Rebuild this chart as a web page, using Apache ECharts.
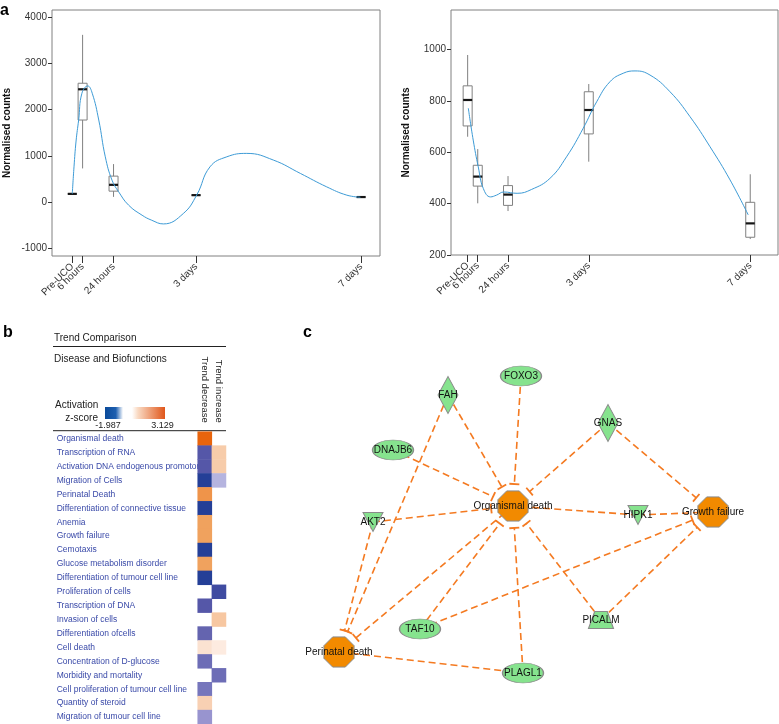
<!DOCTYPE html>
<html><head><meta charset="utf-8">
<script src="https://cdn.jsdelivr.net/npm/echarts@6/dist/echarts.min.js"></script>
<style>html,body{margin:0;padding:0;background:#fff}#c{width:779px;height:724px}</style>
</head><body><div id="c"></div>
<script>
const FONT = '"Liberation Sans", Arial, Helvetica, sans-serif';

// ---------- Panel a ----------
const timeLabels = ['Pre-UCO', '6 hours', '24 hours', '3 days', '7 days'];
const timeHours = [0, 6, 24, 72, 168];

// box stats per time point: [min, q1, median, q3, max]
const leftBoxes = [
  [174, 174, 174, 174, 174],
  [726, 1776, 2443, 2574, 3624],
  [109, 233, 370, 559, 820],
  [146, 146, 146, 146, 146],
  [105, 105, 105, 105, 105]
];
const leftCurveHours  = [0, 1.0, 2.2, 3.7, 5.6, 9.0, 11.6, 15.4, 19.2, 23.1, 27, 32.8, 40.6, 46.2, 53, 64.6, 72.4, 80.1, 89.9, 101.5, 117, 132.7, 148, 159.7, 167.6];
const leftCurveValues = [174, 760, 1320, 1776, 2357, 2515, 2357, 1776, 978, 472, 217, -72, -289, -398, -478, -252, 150, 760, 978, 1052, 907, 617, 326, 146, 102];
const leftTicks = [-1000, 0, 1000, 2000, 3000, 4000];

const rightBoxes = [
  [660, 702, 803, 858, 978],
  [401, 468, 505, 549, 612],
  [371, 393, 435, 470, 507],
  [563, 671, 764, 835, 865],
  [262, 269, 323, 405, 514]
];
const rightCurveHours  = [0.4, 3.3, 6.3, 9.3, 13.6, 17.2, 21.5, 29.4, 38, 48.9, 58.8, 68.7, 76.7, 84.6, 92.5, 99.5, 108.4, 120.3, 132.2, 144.1, 156, 166.8];
const rightCurveValues = [771, 647, 543, 459, 426, 433, 445, 440, 455, 498, 582, 693, 796, 874, 907, 916, 900, 835, 738, 621, 492, 356];
const rightTicks = [200, 400, 600, 800, 1000];

// ---------- Panel b ----------
const trendColumns = ['Trend decrease', 'Trend increase'];
const functions = ['Organismal death', 'Transcription of RNA', 'Activation DNA endogenous promotor', 'Migration of Cells',
  'Perinatal Death', 'Differentiation of connective tissue', 'Anemia', 'Growth failure', 'Cemotaxis',
  'Glucose metabolism disorder', 'Differentiation of tumour cell line', 'Proliferation of cells', 'Transcription of DNA',
  'Invasion of cells', 'Differentiation ofcells', 'Cell death', 'Concentration of D-glucose', 'Morbidity and mortality',
  'Cell proliferation of tumour cell line', 'Quantity of steroid', 'Migration of tumour cell line'];
const zDecrease = [3.129, -1.5, -1.5, -1.987, 2.2, -1.987, 2.0, 2.0, -1.987, 2.0, -1.987, null, -1.5, null, -1.3, 0.4, -1.2, null, -1.1, 0.8, -0.8];
const zIncrease = [null, 0.9, 0.9, -0.6, null, null, null, null, null, null, null, -1.7, null, 1.0, null, 0.3, null, -1.2, null, null, null];
const zMin = -1.987, zMax = 3.129;

// ---------- Panel c ----------
const nodeNames = ['FOXO3', 'FAH', 'GNAS', 'DNAJB6', 'Organismal death', 'AKT2', 'HIPK1', 'Growth failure', 'PICALM', 'TAF10', 'Perinatal death', 'PLAGL1'];
const nodeKinds = ['ellipse', 'diamond', 'diamond', 'ellipse', 'func', 'triangle', 'triangle', 'func', 'trapezoid', 'ellipse', 'func', 'ellipse'];
const nodeX = [182, 109, 269, 54, 174, 34, 299, 374, 262, 81, 0, 184];
const nodeY = [0, 19, 47, 74, 130, 146, 139, 136, 244, 253, 276, 297];
const linkFrom = ['FAH', 'FOXO3', 'GNAS', 'DNAJB6', 'AKT2', 'HIPK1', 'TAF10', 'PLAGL1', 'PICALM',
  'Organismal death', 'AKT2', 'FAH', 'PLAGL1', 'GNAS', 'HIPK1', 'TAF10', 'PICALM'];
const linkTo = ['Organismal death', 'Organismal death', 'Organismal death', 'Organismal death', 'Organismal death',
  'Organismal death', 'Organismal death', 'Organismal death', 'Organismal death',
  'Perinatal death', 'Perinatal death', 'Perinatal death', 'Perinatal death',
  'Growth failure', 'Growth failure', 'Growth failure', 'Growth failure'];
const linkInhibit = [1, 1, 1, 1, 1, 0, 1, 1, 1, 1, 1, 1, 0, 1, 0, 1, 1];

// ---------- styles ----------
// octagon path carries invisible padding so that inhibition bars sit a little off the node edge
const nodeStyle = {
  ellipse:   { symbol: 'circle', size: [41, 20], color: '#86e38e' },
  diamond:   { symbol: 'diamond', size: [20, 37], color: '#86e38e' },
  triangle:  { symbol: 'path://M0,0L100,0L50,100Z', size: [20, 19], color: '#86e38e' },
  trapezoid: { symbol: 'path://M25,0L75,0L100,100L0,100Z', size: [25, 17], color: '#86e38e' },
  func:      { symbol: 'path://M-23,-23M123,123M29,0L71,0L100,29L100,71L71,100L29,100L0,71L0,29Z', size: [44, 44], color: '#f28a00' }
};
const colorAnchors = [[-1.987, '#243f97'], [-1.7, '#3f4ba1'], [-1.5, '#5557a8'], [-1.3, '#6464af'], [-1.1, '#7676bc'],
  [-0.8, '#9793cf'], [-0.6, '#b5b4df'], [0, '#ffffff'], [0.3, '#fdebe0'], [0.4, '#fbe1d1'], [0.8, '#f8d0b3'],
  [1.0, '#f7c7a0'], [2.0, '#f0a25e'], [2.2, '#ef944a'], [3.129, '#e8640c']];

function hex2rgb(h) { return [1, 3, 5].map(i => parseInt(h.substr(i, 2), 16)); }
function colorAt(v) {
  for (let i = 0; i < colorAnchors.length - 1; i++) {
    const [a, ca] = colorAnchors[i], [b, cb] = colorAnchors[i + 1];
    if (v <= b || i === colorAnchors.length - 2) {
      const t = Math.max(0, Math.min(1, (v - a) / (b - a)));
      const A = hex2rgb(ca), B = hex2rgb(cb);
      return 'rgb(' + A.map((x, k) => Math.round(x + (B[k] - x) * t)).join(',') + ')';
    }
  }
}
const colorStops = [];
for (let i = 0; i < 160; i++) colorStops.push(colorAt(zMin + (zMax - zMin) * i / 159));

const boxData = (boxes) => boxes.map((b, i) => [timeHours[i]].concat(b));
const curveData = (hs, vs) => hs.map((h, i) => [h, vs[i]]);

function renderBox(params, api) {
  const x = api.value(0);
  const pMin = api.coord([x, api.value(1)]);
  const pQ1 = api.coord([x, api.value(2)]);
  const pMed = api.coord([x, api.value(3)]);
  const pQ3 = api.coord([x, api.value(4)]);
  const pMax = api.coord([x, api.value(5)]);
  const hw = 4.5, stroke = '#808080';
  return {
    type: 'group',
    children: [
      { type: 'line', shape: { x1: pMax[0], y1: pMax[1], x2: pQ3[0], y2: pQ3[1] }, style: { stroke, lineWidth: 1 } },
      { type: 'line', shape: { x1: pQ1[0], y1: pQ1[1], x2: pMin[0], y2: pMin[1] }, style: { stroke, lineWidth: 1 } },
      { type: 'rect', shape: { x: pQ3[0] - hw, y: pQ3[1], width: hw * 2, height: pQ1[1] - pQ3[1] }, style: { fill: 'none', stroke, lineWidth: 1 } },
      { type: 'line', shape: { x1: pMed[0] - hw, y1: pMed[1], x2: pMed[0] + hw, y2: pMed[1] }, style: { stroke: '#151515', lineWidth: 2.2 } }
    ]
  };
}

// Two stacked bottom axes per panel, so that the overlapping "Pre-UCO" / "6 hours" labels are both kept.
const labelHoursA = timeHours.filter((h, i) => i % 2 === 0);
const labelHoursB = timeHours.filter((h, i) => i % 2 === 1);
function timeXAxis(gridIndex, min, max, labelHours, withTicks) {
  return {
    type: 'value', gridIndex, min, max, position: 'bottom', offset: 0,
    axisLine: { show: false, onZero: false }, splitLine: { show: false },
    axisTick: { show: withTicks, customValues: timeHours, length: 7, lineStyle: { color: '#333' } },
    axisLabel: { customValues: labelHours, formatter: v => timeLabels[timeHours.indexOf(v)], rotate: 45, margin: 9,
      fontSize: 10, color: '#333', fontFamily: FONT, hideOverlap: false }
  };
}
function countYAxis(gridIndex, min, max, ticks) {
  return {
    type: 'value', gridIndex, min, max,
    axisLine: { show: false, onZero: false }, splitLine: { show: false },
    axisTick: { show: true, customValues: ticks, length: 4, lineStyle: { color: '#333' } },
    axisLabel: { customValues: ticks, formatter: v => String(v), margin: 5, fontSize: 10, color: '#333', fontFamily: FONT,
      showMinLabel: true, showMaxLabel: true },
    name: 'Normalised counts', nameLocation: 'middle', nameGap: 40,
    nameTextStyle: { fontSize: 10, fontWeight: 'bold', color: '#111', fontFamily: FONT }
  };
}

const heatData = [];
functions.forEach((f, r) => {
  if (zDecrease[r] !== null) heatData.push([0, r, zDecrease[r]]);
  if (zIncrease[r] !== null) heatData.push([1, r, zIncrease[r]]);
});

const nodes = nodeNames.map((n, i) => {
  const s = nodeStyle[nodeKinds[i]];
  return { name: n, x: nodeX[i], y: nodeY[i], symbol: s.symbol, symbolSize: s.size,
    itemStyle: { color: s.color, borderColor: '#8a8a8a', borderWidth: 1 } };
});
const links = linkFrom.map((f, i) => ({
  source: f, target: linkTo[i],
  symbol: ['none', linkInhibit[i] ? 'rect' : 'none'],
  symbolSize: [1, [10, 1.8]]
}));

const txt = (x, y, text, o) => ({ type: 'text', x, y, style: Object.assign({ text, fontFamily: FONT, fontSize: 10, fill: '#222', textVerticalAlign: 'middle' }, o || {}) });

const chart = echarts.init(document.getElementById('c'), null, { renderer: 'canvas' });
chart.setOption({
  animation: false,
  backgroundColor: '#fff',
  textStyle: { fontFamily: FONT },
  grid: [
    { left: 52, top: 10, width: 328, height: 246, show: true, borderColor: '#808080', borderWidth: 1, backgroundColor: 'transparent' },
    { left: 451, top: 10, width: 327, height: 245, show: true, borderColor: '#808080', borderWidth: 1, backgroundColor: 'transparent' },
    { left: 197.7, top: 431.7, width: 28.3, height: 292.3 }
  ],
  xAxis: [
    timeXAxis(0, -11.8, 179, labelHoursA, true),
    timeXAxis(1, -9.9, 184.5, labelHoursA, true),
    { type: 'category', gridIndex: 2, data: trendColumns, position: 'top',
      axisLine: { show: false }, axisTick: { show: false }, splitLine: { show: false },
      axisLabel: { interval: 0, rotate: 90, margin: 9, fontSize: 9.5, color: '#222', fontFamily: FONT } },
    timeXAxis(0, -11.8, 179, labelHoursB, false),
    timeXAxis(1, -9.9, 184.5, labelHoursB, false)
  ],
  yAxis: [
    countYAxis(0, -1174, 4163, leftTicks),
    countYAxis(1, 200, 1153, rightTicks),
    { type: 'category', gridIndex: 2, data: functions, inverse: true,
      axisLine: { show: false }, axisTick: { show: false }, splitLine: { show: false },
      axisLabel: { interval: 0, align: 'left', margin: 141, fontSize: 8.5, color: '#3949a8', fontFamily: FONT } }
  ],
  visualMap: { type: 'continuous', show: false, seriesIndex: 4, min: zMin, max: zMax, inRange: { color: colorStops } },
  series: [
    { type: 'custom', xAxisIndex: 0, yAxisIndex: 0, data: boxData(leftBoxes), renderItem: renderBox,
      encode: { x: 0, y: [1, 2, 3, 4, 5] }, z: 2, silent: true },
    { type: 'line', xAxisIndex: 0, yAxisIndex: 0, data: curveData(leftCurveHours, leftCurveValues),
      smooth: 0.45, showSymbol: false, lineStyle: { color: '#3d9bd6', width: 1 }, z: 3, silent: true },
    { type: 'custom', xAxisIndex: 1, yAxisIndex: 1, data: boxData(rightBoxes), renderItem: renderBox,
      encode: { x: 0, y: [1, 2, 3, 4, 5] }, z: 2, silent: true },
    { type: 'line', xAxisIndex: 1, yAxisIndex: 1, data: curveData(rightCurveHours, rightCurveValues),
      smooth: 0.45, showSymbol: false, lineStyle: { color: '#3d9bd6', width: 1 }, z: 3, silent: true },
    { type: 'heatmap', xAxisIndex: 2, yAxisIndex: 2, data: heatData, itemStyle: { borderWidth: 0 }, silent: true },
    { type: 'graph', layout: 'none', left: 339, top: 376, width: 374, height: 297, roam: false, silent: true,
      data: nodes, links,
      label: { show: true, position: 'inside', fontSize: 10, color: '#111', fontFamily: FONT },
      lineStyle: { color: '#f47a21', width: 1.6, opacity: 1, type: [7, 4], curveness: 0 },
      edgeSymbol: ['none', 'none'], z: 3 }
  ],
  graphic: [
    txt(0, 11, 'a', { fontSize: 16, fontWeight: 'bold', fill: '#000' }),
    txt(3, 333, 'b', { fontSize: 16, fontWeight: 'bold', fill: '#000' }),
    txt(303, 333, 'c', { fontSize: 16, fontWeight: 'bold', fill: '#000' }),
    txt(54, 338, 'Trend Comparison'),
    { type: 'line', shape: { x1: 53, y1: 346.5, x2: 226, y2: 346.5 }, style: { stroke: '#222', lineWidth: 1 } },
    txt(54, 359, 'Disease and Biofunctions'),
    txt(55, 405, 'Activation'),
    txt(98, 418, 'z-score', { textAlign: 'right' }),
    { type: 'rect', shape: { x: 105, y: 407, width: 60, height: 12 },
      style: { fill: new echarts.graphic.LinearGradient(0, 0, 1, 0, [
        { offset: 0, color: '#0a4a9a' }, { offset: 0.18, color: '#1d5fb0' }, { offset: 0.3, color: '#ffffff' },
        { offset: 0.45, color: '#ffffff' }, { offset: 0.55, color: '#f9d9c2' }, { offset: 1, color: '#e0561a' }]) } },
    txt(108, 425.5, '-1.987', { textAlign: 'center', fontSize: 9 }),
    txt(162.5, 425.5, '3.129', { textAlign: 'center', fontSize: 9 }),
    { type: 'line', shape: { x1: 53, y1: 430.7, x2: 226, y2: 430.7 }, style: { stroke: '#222', lineWidth: 1 } }
  ]
});
</script></body></html>
